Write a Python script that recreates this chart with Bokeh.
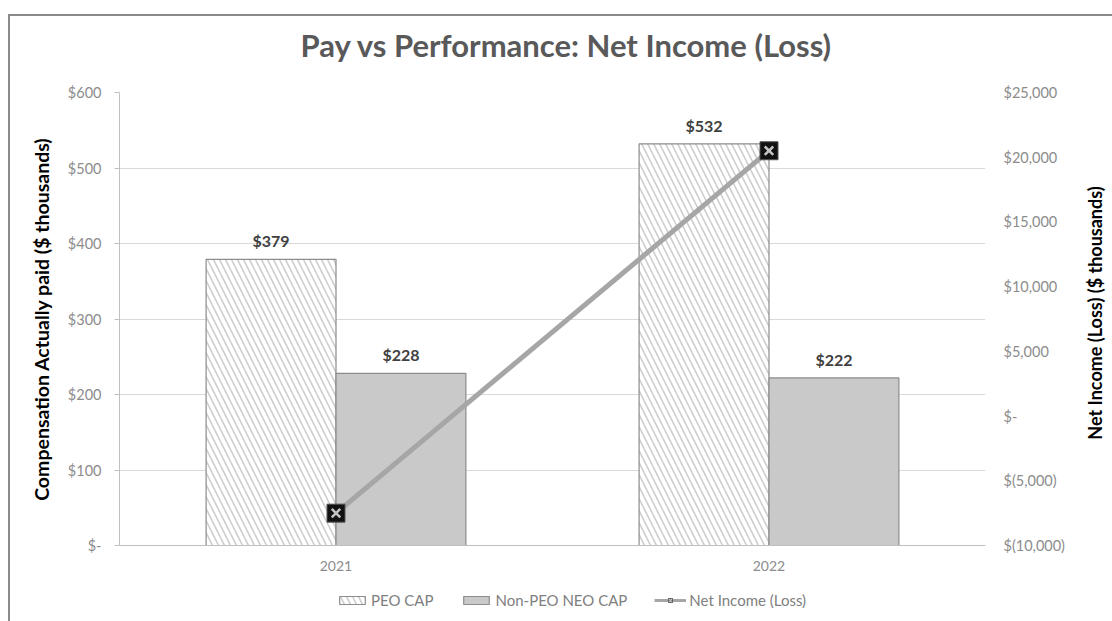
from bokeh.plotting import figure
from bokeh.models import (Range1d, LinearAxis, FixedTicker, Legend, LegendItem,
                          ColumnDataSource, FactorRange, Spacer)
from bokeh.layouts import row, column
from bokeh.transform import dodge
from bokeh.core.properties import value
from bokeh.embed import file_html
from bokeh.resources import INLINE

# ---------------- data ----------------
years = ["2021", "2022"]
peo_cap = [379, 532]
non_peo_cap = [228, 222]
net_income = [-7500, 20500]

left_ticks = [0, 100, 200, 300, 400, 500, 600]
left_tick_labels = ["$-", "$100", "$200", "$300", "$400", "$500", "$600"]
right_ticks = [-10000, -5000, 0, 5000, 10000, 15000, 20000, 25000]
right_tick_labels = ["$(10,000)", "$(5,000)", "$-", "$5,000", "$10,000",
                     "$15,000", "$20,000", "$25,000"]
series_names = ["PEO CAP", "Non-PEO NEO CAP", "Net Income (Loss)"]
title_text = "Pay vs Performance: Net Income (Loss)"
left_label = "Compensation Actually paid ($ thousands)"
right_label = "Net Income (Loss) ($ thousands)"

FONT = "Lato"
TICK_COLOR = "#8c8c8c"
BORDER = "#8a8a8a"
LINE_COLOR = "#a6a6a6"

src = ColumnDataSource(dict(
    years=years,
    peo=peo_cap,
    non=non_peo_cap,
    ni=net_income,
    peo_lbl=[f"${v}" for v in peo_cap],
    non_lbl=[f"${v}" for v in non_peo_cap],
))

PEO_STYLE = dict(fill_color="white", line_color="#8c8c8c", line_width=1.2,
                 hatch_pattern="\\", hatch_color="#cccccc", hatch_scale=12,
                 hatch_weight=1.5)
NON_STYLE = dict(fill_color="#c9c9c9", line_color="#8c8c8c", line_width=1.2)


def blank(fig):
    fig.xaxis.visible = False
    fig.yaxis.visible = False
    fig.grid.grid_line_color = None
    fig.outline_line_color = None
    fig.border_fill_color = "white"
    fig.background_fill_color = "white"


# ---------------- title strip ----------------
tf = figure(width=1062, height=60, output_backend="svg", toolbar_location=None,
            x_range=Range1d(0, 1), y_range=Range1d(0, 1), min_border=0,
            min_border_top=0, min_border_bottom=0, title=title_text,
            title_location="above")
blank(tf)
tf.title.align = "left"
tf.title.offset = 181
tf.title.vertical_align = "top"
tf.title.standoff = 18
tf.title.text_font = FONT
tf.title.text_font_size = "31px"
tf.title.text_font_style = "bold"
tf.title.text_color = "#595959"

# ---------------- main chart ----------------
p = figure(x_range=FactorRange(*years), y_range=Range1d(0, 600),
           width=1062, height=504, output_backend="svg", toolbar_location=None,
           min_border_left=109, min_border_right=87, min_border_top=16,
           min_border_bottom=35)
p.outline_line_color = None
p.background_fill_color = "white"
p.border_fill_color = "white"

p.extra_y_ranges = {"ni": Range1d(-10000, 25000)}

p.xgrid.grid_line_color = None
p.ygrid.grid_line_color = "#d9d9d9"
p.ygrid.grid_line_width = 1

# left axis
ya = p.yaxis[0]
ya.ticker = FixedTicker(ticks=left_ticks)
ya.major_label_overrides = {t: l for t, l in zip(left_ticks, left_tick_labels)}
ya.axis_line_color = "#bfbfbf"
ya.major_tick_line_color = "#bfbfbf"
ya.major_tick_out = 5
ya.major_tick_in = 0
ya.minor_tick_line_color = None
ya.major_label_standoff = 13
ya.major_label_text_font = FONT
ya.major_label_text_font_size = "14.5px"
ya.major_label_text_color = TICK_COLOR
ya.axis_label = left_label
ya.axis_label_text_font = FONT
ya.axis_label_text_font_size = "19.5px"
ya.axis_label_text_font_style = "bold"
ya.axis_label_text_color = "#000000"
ya.axis_label_standoff = 12

# right axis (ticks only; its title is drawn in the strip to the right)
ra = LinearAxis(y_range_name="ni", ticker=FixedTicker(ticks=right_ticks))
ra.major_label_overrides = {t: l for t, l in zip(right_ticks, right_tick_labels)}
ra.axis_line_color = None
ra.major_tick_line_color = None
ra.minor_tick_line_color = None
ra.major_tick_out = 0
ra.major_label_standoff = 18
ra.major_label_text_font = FONT
ra.major_label_text_font_size = "14.5px"
ra.major_label_text_color = TICK_COLOR
p.add_layout(ra, "right")

# x axis
xa = p.xaxis[0]
xa.axis_line_color = "#bfbfbf"
xa.major_tick_line_color = None
xa.minor_tick_line_color = None
xa.major_label_standoff = 9
xa.major_label_text_font = FONT
xa.major_label_text_font_size = "14px"
xa.major_label_text_color = TICK_COLOR

# bars
p.vbar(x=dodge("years", -0.15, range=p.x_range), top="peo", width=0.3,
       source=src, **PEO_STYLE)
p.vbar(x=dodge("years", 0.15, range=p.x_range), top="non", width=0.3,
       source=src, **NON_STYLE)

# bar labels
for col, lbl, off in (("peo", "peo_lbl", -0.15), ("non", "non_lbl", 0.15)):
    p.text(x=dodge("years", off, range=p.x_range), y=col, text=lbl, source=src,
           text_align="center", text_baseline="bottom", y_offset=-9,
           text_font=value(FONT), text_font_style="bold", text_font_size="16px",
           text_color="#404040")

# net income line + markers
p.line(x="years", y="ni", y_range_name="ni", source=src,
       line_color=LINE_COLOR, line_width=5)
p.scatter(x="years", y="ni", y_range_name="ni", source=src, marker="square",
          size=18, fill_color="#111111", line_color="#555555", line_width=1)
p.scatter(x="years", y="ni", y_range_name="ni", source=src, marker="x",
          size=12, line_color="#c4c4c4", line_width=2.5)

# ---------------- legend strip ----------------
lf = figure(width=1062, height=41, output_backend="svg", toolbar_location=None,
            x_range=Range1d(0, 1), y_range=Range1d(0, 1), min_border=0)
blank(lf)

nan = float("nan")
dummy = ColumnDataSource(dict(x=[0.5], y=[nan]))
lg_peo = lf.vbar(x="x", top="y", width=0.1, source=dummy, **PEO_STYLE)
lg_non = lf.vbar(x="x", top="y", width=0.1, source=dummy, **NON_STYLE)
lg_line = lf.line(x="x", y="y", source=dummy, line_color=LINE_COLOR, line_width=3)
lg_sq = lf.scatter(x="x", y="y", source=dummy, marker="square", size=11,
                   fill_color="#111111", line_color="#555555")
lg_x = lf.scatter(x="x", y="y", source=dummy, marker="x", size=8,
                  line_color="#c4c4c4", line_width=1.5)

legend = Legend(items=[
    LegendItem(label=series_names[0], renderers=[lg_peo]),
    LegendItem(label=series_names[1], renderers=[lg_non]),
    LegendItem(label=series_names[2], renderers=[lg_line, lg_sq, lg_x]),
], orientation="horizontal", location=(217, 12))
legend.border_line_color = None
legend.background_fill_alpha = 0
legend.label_text_font = FONT
legend.label_text_font_size = "15px"
legend.label_text_color = "#808080"
legend.glyph_width = 32
legend.glyph_height = 10
legend.label_height = 16
legend.label_standoff = 3
legend.spacing = 27
legend.padding = 3
legend.margin = 0
lf.add_layout(legend, "center")

# ---------------- right-axis title strip ----------------
rf = figure(width=40, height=605, output_backend="svg", toolbar_location=None,
            x_range=Range1d(0, 1), y_range=Range1d(0, 1), min_border=0,
            min_border_left=33, min_border_right=0, min_border_top=76,
            min_border_bottom=88, title=right_label, title_location="left")
blank(rf)
rf.title.align = "center"
rf.title.vertical_align = "bottom"
rf.title.standoff = 0
rf.title.text_font = FONT
rf.title.text_font_size = "18px"
rf.title.text_font_style = "bold"
rf.title.text_color = "#000000"

# ---------------- outer frame lines ----------------
top_line = Spacer(width=1104, height=2, styles={"background-color": BORDER})
left_line = Spacer(width=2, height=605, styles={"background-color": BORDER})

layout = row(
    Spacer(width=8, height=621),
    column(
        Spacer(width=1104, height=14),
        top_line,
        row(left_line, column(tf, p, lf), rf),
    ),
)

open("out.html", "w").write(file_html(layout, INLINE))
